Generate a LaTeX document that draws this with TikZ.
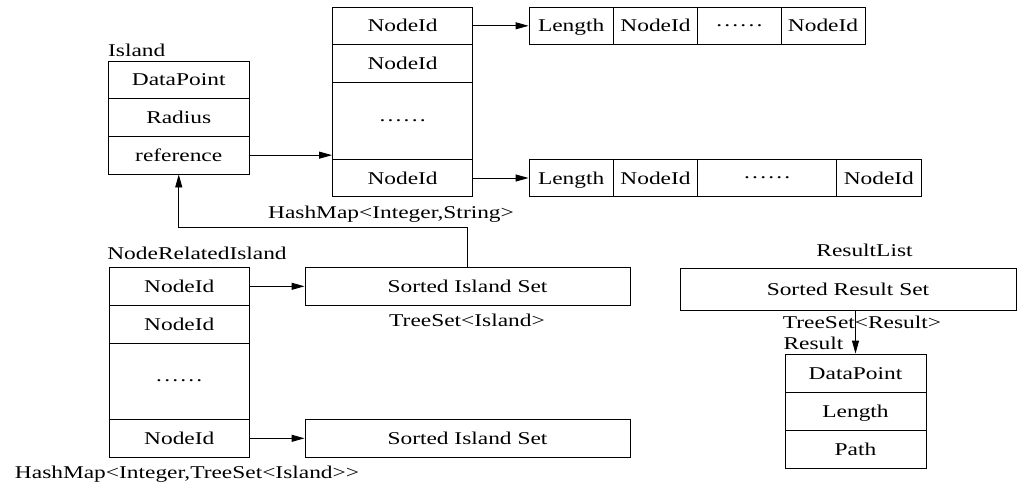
\documentclass[tikz,border=0pt]{standalone}
\usepackage{fontspec}
\setmainfont{Liberation Serif}[FakeStretch=1.3]
\usetikzlibrary{arrows.meta}
\newcommand{\sixdots}{\raisebox{5.5pt}{.\kern2.2pt.\kern2.2pt.\kern2.2pt.\kern2.2pt.\kern2.2pt.}}
\begin{document}
\begin{tikzpicture}[x=1pt,y=-1pt,
  every node/.style={font=\fontsize{18pt}{20pt}\selectfont, inner sep=0pt},
  cell/.style={draw, line width=0.9pt, text height=12pt, text depth=0pt, anchor=center},
  lbl/.style={anchor=base},
  arr/.style={line width=0.9pt, -{Triangle[length=13pt,width=7pt]}},
  ln/.style={line width=0.9pt}]
\useasboundingbox (0,0) rectangle (1017,488);

% Island
\node[lbl, anchor=base west] (islandlbl) at (108,56) {Island};
\node[cell, minimum width=140.5, minimum height=37.7] (isl1) at (178.75,79.85) {DataPoint};
\node[cell, minimum width=140.5, minimum height=37.6] (isl2) at (178.75,117.5) {Radius};
\node[cell, minimum width=140.5, minimum height=37.7] (isl3) at (178.75,155.15) {reference};

% HashMap<Integer,String>
\node[cell, minimum width=140.2, minimum height=37] (hm1) at (402.6,25.8) {NodeId};
\node[cell, minimum width=140.2, minimum height=38] (hm2) at (402.6,63.3) {NodeId};
\node[cell, minimum width=140.2, minimum height=77] (hm3) at (402.6,120.8) {\sixdots};
\node[cell, minimum width=140.2, minimum height=37.4] (hm4) at (402.6,178) {NodeId};
\node[lbl] (hmlbl) at (391,218.7) {HashMap<Integer,String>};

% top list
\node[cell, minimum width=84.3, minimum height=37] (t1) at (571.15,25.8) {Length};
\node[cell, minimum width=84.4, minimum height=37] (t2) at (655.5,25.8) {NodeId};
\node[cell, minimum width=83.3, minimum height=37] (t3) at (739.35,25.8) {\sixdots};
\node[cell, minimum width=84, minimum height=37] (t4) at (823,25.8) {NodeId};

% bottom list
\node[cell, minimum width=84.3, minimum height=37.4] (b1) at (571.15,178) {Length};
\node[cell, minimum width=84.4, minimum height=37.4] (b2) at (655.5,178) {NodeId};
\node[cell, minimum width=139, minimum height=37.4] (b3) at (767.2,178) {\sixdots};
\node[cell, minimum width=84.3, minimum height=37.4] (b4) at (878.85,178) {NodeId};

\draw[arr] (hm1.east) -- (t1.west);
\draw[arr] (hm4.east) -- (b1.west);
\draw[arr] (isl3.east) -- (isl3.east -| hm3.west);

% NodeRelatedIsland
\node[lbl] (nrilbl) at (197,259) {NodeRelatedIsland};
\node[cell, minimum width=139.5, minimum height=38] (n1) at (179.25,286.3) {NodeId};
\node[cell, minimum width=139.5, minimum height=37.7] (n2) at (179.25,324.15) {NodeId};
\node[cell, minimum width=139.5, minimum height=76.3] (n3) at (179.25,381.15) {\sixdots};
\node[cell, minimum width=139.5, minimum height=38] (n4) at (179.25,438.3) {NodeId};
\node[lbl] (nrihm) at (187,478) {HashMap<Integer,TreeSet<Island>{}>};

\node[cell, minimum width=325, minimum height=38] (s1) at (467.5,286.3) {Sorted Island Set};
\node[cell, minimum width=325, minimum height=38] (s2) at (467.5,438.3) {Sorted Island Set};
\node[lbl] (tslbl) at (467,326) {TreeSet<Island>};

\draw[arr] (n1.east) -- (s1.west);
\draw[arr] (n4.east) -- (s2.west);
\coordinate (bend) at (178.75,227.3);
\draw[arr] (s1.north) |- (bend) -- (isl3.south);

% ResultList
\node[lbl] (rllbl) at (864.5,256) {ResultList};
\node[cell, minimum width=336, minimum height=41.7] (srs) at (848,289.15) {Sorted Result Set};
\node[lbl] (tsrlbl) at (862,328) {TreeSet<Result>};
\node[lbl] (reslbl) at (813.5,349) {Result};
\node[cell, minimum width=141, minimum height=38.7] (r1) at (855.5,373.35) {DataPoint};
\node[cell, minimum width=141, minimum height=38] (r2) at (855.5,411.7) {Length};
\node[cell, minimum width=141, minimum height=37.6] (r3) at (855.5,449.5) {Path};
\draw[arr] (r1.north |- srs.south) -- (r1.north);
\end{tikzpicture}
\end{document}
